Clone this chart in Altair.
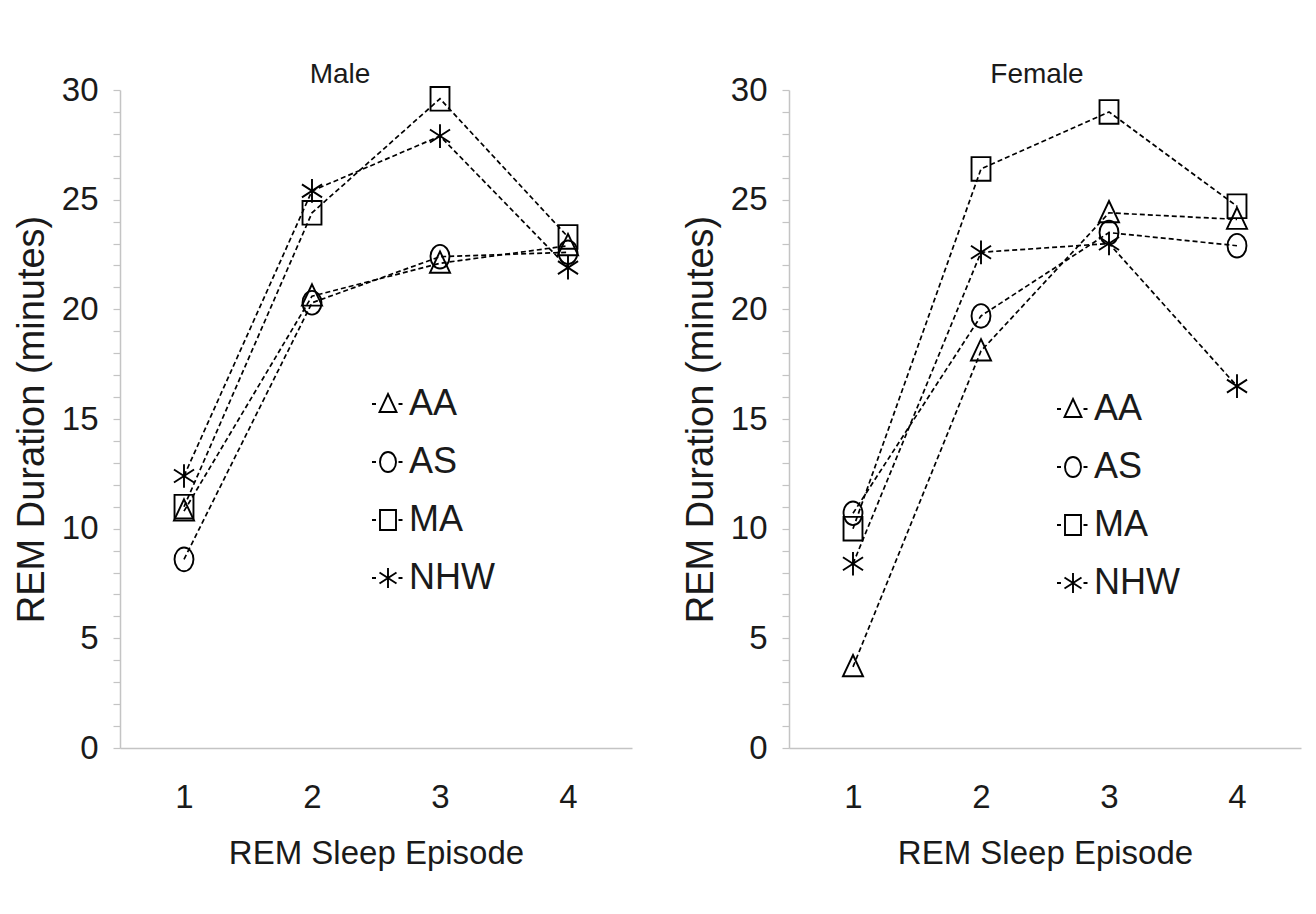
import altair as alt
import pandas as pd

episodes = [1, 2, 3, 4]
groups = ["AA", "AS", "MA", "NHW"]

male_AA = [10.8, 20.6, 22.1, 22.9]
male_AS = [8.6, 20.3, 22.4, 22.6]
male_MA = [11.0, 24.4, 29.6, 23.3]
male_NHW = [12.4, 25.4, 27.9, 21.9]

female_AA = [3.7, 18.1, 24.4, 24.1]
female_AS = [10.7, 19.7, 23.5, 22.9]
female_MA = [10.0, 26.4, 29.0, 24.7]
female_NHW = [8.4, 22.6, 23.0, 16.5]

y_ticks = list(range(0, 31))
x_ticks = [1, 2, 3, 4]

FONT = "Liberation Sans"
TXT = "#1a1a1a"
AXC = "#c4c4c4"

# marker paths (unit coords, slightly taller than wide)
plot_shapes = {
    "AA": "M0,-1L0.85,0.8L-0.85,0.8Z",
    "AS": "M-0.8,0A0.8,1 0 1 1 0.8,0A0.8,1 0 1 1 -0.8,0Z",
    "MA": "M-0.8,-1L0.8,-1L0.8,1L-0.8,1Z",
    "NHW": "M0,-1L0,1M-0.85,-0.55L0.85,0.55M-0.85,0.55L0.85,-0.55",
}
dash = "M-1.6,0L-1.2,0M1.05,0L1.45,0"
legend_shapes = [dash + plot_shapes[g] for g in groups]


def make_df(series):
    rows = []
    for g, vals in zip(groups, series):
        for e, v in zip(episodes, vals):
            rows.append({"episode": e, "group": g, "value": v})
    return pd.DataFrame(rows)


x_enc = alt.X(
    "episode:Q",
    scale=alt.Scale(domain=[0.5, 4.5], nice=False, zero=False),
    axis=alt.Axis(
        values=x_ticks, title="REM Sleep Episode", ticks=False, tickSize=0,
        grid=False, labelPadding=33, titlePadding=23, format="d",
    ),
)
y_enc = alt.Y(
    "value:Q",
    scale=alt.Scale(domain=[0, 30], nice=False),
    axis=alt.Axis(
        values=y_ticks, title="REM Duration (minutes)", tickSize=7,
        labelPadding=15, titlePadding=10, grid=False,
        labelExpr="datum.value % 5 == 0 ? datum.label : ''",
    ),
)


def panel(series, title, dx, lx, ly):
    df = make_df(series)
    base = alt.Chart(df)
    lines = base.mark_line(
        color="black", strokeDash=[5, 3], strokeWidth=1.7
    ).encode(x=x_enc, y=y_enc, detail="group:N")
    layers = [lines]
    for g in groups:
        layers.append(
            base.transform_filter(alt.datum.group == g)
            .mark_point(shape=plot_shapes[g], size=560, filled=False,
                        stroke="black", strokeWidth=1.9, opacity=1)
            .encode(x=x_enc, y=y_enc)
        )
    leg = (
        base.transform_filter("false")
        .mark_point(filled=False, stroke="black", strokeWidth=1.9, size=400)
        .encode(
            x=x_enc, y=y_enc,
            shape=alt.Shape(
                "group:N",
                scale=alt.Scale(domain=groups, range=legend_shapes),
                legend=alt.Legend(
                    title=None, orient="none", legendX=lx, legendY=ly,
                    labelFontSize=36, labelFont=FONT, labelColor=TXT,
                    labelOffset=3, rowPadding=22, symbolSize=400,
                    symbolStrokeColor="black", symbolFillColor="transparent",
                    symbolStrokeWidth=1.9, symbolOpacity=1, padding=0,
                ),
            ),
        )
    )
    layers.append(leg)
    return alt.layer(*layers).properties(
        width=512, height=658,
        title=alt.TitleParams(
            title, fontSize=28, fontWeight="normal", font=FONT, color=TXT,
            anchor="middle", frame="group", dx=dx, offset=-15,
        ),
    )


left = panel([male_AA, male_AS, male_MA, male_NHW], "Male", -36, 250, 296)
right = panel([female_AA, female_AS, female_MA, female_NHW], "Female", -8, 266, 301)

chart = (
    alt.hconcat(left, right, spacing=50)
    .resolve_scale(shape="independent")
    .resolve_legend(shape="independent")
    .properties(padding={"left": 5, "top": 53, "right": 5, "bottom": 5})
    .configure_view(stroke=None)
    .configure_axis(
        domainColor=AXC, tickColor=AXC, domainWidth=1.5, tickWidth=1.2,
        labelFont=FONT, titleFont=FONT, labelFontSize=33, titleFontSize=33,
        labelColor=TXT, titleColor=TXT, titleFontWeight="normal",
    )
    .configure_axisY(titleFontSize=38)
)

chart.save("out.html", embed_options={"renderer": "svg", "actions": False})
